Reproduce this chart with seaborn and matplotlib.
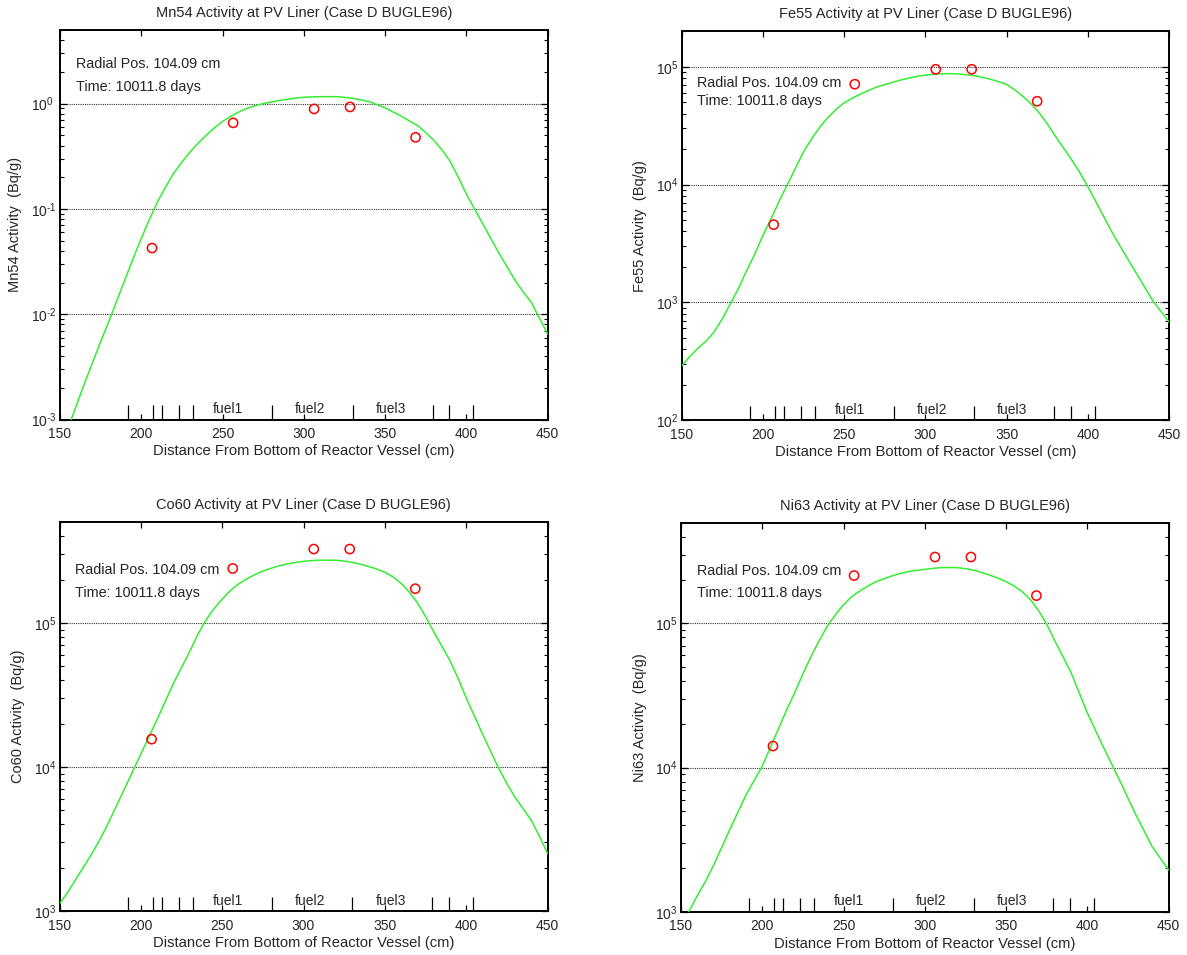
import numpy as np
import pandas as pd
import seaborn as sns
import matplotlib
matplotlib.use("Agg")
import matplotlib.pyplot as plt
from matplotlib.ticker import NullFormatter, LogLocator, FuncFormatter

sns.set_style("ticks")
plt.rcParams["font.family"] = ["Liberation Sans", "DejaVu Sans"]
plt.rcParams["mathtext.fontset"] = "custom"
plt.rcParams["mathtext.rm"] = "Liberation Sans"
plt.rcParams["mathtext.default"] = "regular"

# Axial positions of the calculated profile (cm from vessel bottom), 5 cm steps
calc_x = list(range(150, 455, 5))

# Calculated activity profiles (Bq/g)
mn54_calc = [5.0e-4, 8.3e-4, 1.35e-3, 2.19e-3, 3.47e-3, 5.5e-3, 8.5e-3, 1.35e-2, 2.14e-2, 3.39e-2,
             5.25e-2, 7.94e-2, 0.117, 0.162, 0.219, 0.279, 0.347, 0.422, 0.501, 0.589,
             0.676, 0.759, 0.832, 0.902, 0.955, 1.00, 1.035, 1.072, 1.10, 1.13,
             1.148, 1.159, 1.164, 1.164, 1.164, 1.148, 1.122, 1.086, 1.047, 0.977,
             0.912, 0.832, 0.759, 0.684, 0.617, 0.531, 0.447, 0.363, 0.282, 0.200,
             0.138, 0.100, 0.0724, 0.0525, 0.038, 0.0282, 0.0209, 0.0162, 0.0129, 0.0091,
             0.00646]
fe55_calc = [288, 347, 407, 468, 562, 724, 977, 1318, 1862, 2570,
             3715, 5130, 7244, 10000, 13800, 19050, 24550, 30900, 37150, 43650,
             49550, 54300, 58900, 63100, 67600, 70800, 74100, 77600, 80350, 83200,
             85100, 86500, 87500, 87700, 87100, 85900, 84300, 81700, 78500, 75000,
             70800, 63800, 56200, 48400, 40700, 32700, 25700, 20400, 16200, 12600,
             9550, 7080, 5250, 3890, 2950, 2265, 1740, 1334, 1023, 832,
             676]
co60_calc = [1122, 1349, 1660, 2042, 2512, 3162, 4074, 5370, 7079, 9333,
             12300, 16220, 21380, 28510, 38020, 48980, 63100, 83180, 104700, 125900,
             146200, 167900, 186200, 201800, 216300, 229100, 239900, 249500, 257000, 263000,
             267900, 271000, 272900, 272900, 272300, 269200, 263000, 255900, 246600, 237100,
             224900, 208900, 188400, 164100, 138000, 110900, 87100, 69180, 54950, 41210,
             30200, 22650, 16980, 12880, 9772, 7674, 6166, 5129, 4266, 3311,
             2512]
ni63_calc = [794, 1012, 1288, 1622, 2089, 2786, 3715, 4898, 6457, 8128,
             10230, 13800, 18620, 25120, 33110, 44670, 58880, 75860, 95500, 114800,
             134900, 153100, 167900, 182000, 195000, 204200, 213800, 222300, 229100, 233300,
             237100, 241000, 243800, 244300, 243800, 239900, 234400, 225900, 216300, 206500,
             195000, 182000, 166000, 146200, 123000, 98850, 75860, 58880, 45710, 33110,
             23990, 18200, 13800, 10590, 8128, 6166, 4677, 3631, 2818, 2344,
             1950]

# Measured sample positions and activities (Bq/g)
meas_x = [206.6, 256.5, 306.3, 328.4, 368.7]
mn54_meas = [0.0425, 0.656, 0.89, 0.93, 0.478]
fe55_meas = [4570, 71300, 95500, 95500, 51100]
co60_meas = [15600, 239000, 326000, 326000, 173000]
ni63_meas = [14100, 215000, 289000, 289000, 156000]

# Core region boundaries and labels
boundaries = [192.0, 207.5, 213.0, 223.5, 232.0, 280.7, 330.0, 379.2, 389.4, 404.3]
fuel_labels = ["fuel1", "fuel2", "fuel3"]
fuel_label_x = [253.5, 304.0, 353.5]

# name, curve, samples, y-limits, axes rect, note rows, y tick pad, y label offset
panels = [
    ("Mn54", mn54_calc, mn54_meas, (1e-3, 5.0), [0.05055, 0.56073, 0.41087, 0.40785],
     (0.912, 0.853), 20.7, -0.0917),
    ("Fe55", fe55_calc, fe55_meas, (1e2, 2e5), [0.57430, 0.56021, 0.41078, 0.40681],
     (0.867, 0.822), 18.8, -0.0847),
    ("Co60", co60_calc, co60_meas, (1e3, 5e5), [0.05013, 0.04607, 0.41112, 0.40702],
     (0.878, 0.819), 18.6, -0.0841),
    ("Ni63", ni63_calc, ni63_meas, (1e3, 5e5), [0.57372, 0.04534, 0.41070, 0.40733],
     (0.877, 0.820), 18.4, -0.0833),
]


def decade_label(value, pos):
    exponent = int(round(np.log10(value)))
    sup = str(exponent).replace("-", "\u2010")
    return rf"$10^{{{sup}}}$"


fs = 10.0
fig = plt.figure(figsize=(11.87, 9.55), dpi=100)
axes = []

for name, calc, meas, ylim, rect, text_y, ypad, ylab_x in panels:
    ax = fig.add_axes(rect)
    axes.append(ax)
    ax.set_yscale("log")
    ax.set_xlim(150, 450)
    ax.set_ylim(*ylim)

    ax.yaxis.grid(True, which="major", linestyle=(0, (1, 1)), color="#333333", lw=0.8)
    ax.xaxis.grid(False)

    df_calc = pd.DataFrame({"x": calc_x, "y": calc})
    sns.lineplot(data=df_calc, x="x", y="y", ax=ax, color="#33ee33", lw=1.1,
                 estimator=None, sort=False, zorder=3)
    df_meas = pd.DataFrame({"x": meas_x, "y": meas})
    sns.scatterplot(data=df_meas, x="x", y="y", ax=ax, marker="o", s=44,
                    facecolors="none", edgecolor="#ff0000", linewidth=1.1, zorder=4)

    # region boundary markers along the bottom
    xtr = ax.get_xaxis_transform()
    ax.vlines(boundaries, 0, 0.036, transform=xtr, color="black", lw=0.9)
    for lab, lx in zip(fuel_labels, fuel_label_x):
        ax.text(lx, 0.009, lab, transform=xtr, ha="center", va="bottom", fontsize=fs)

    ax.text(0.032, text_y[0], "Radial Pos. 104.09 cm", transform=ax.transAxes,
            va="center", ha="left", fontsize=10.4)
    ax.text(0.032, text_y[1], "Time: 10011.8 days", transform=ax.transAxes,
            va="center", ha="left", fontsize=10.4)

    ax.set_xticks([150, 200, 250, 300, 350, 400, 450])
    ax.yaxis.set_major_locator(LogLocator(base=10))
    ax.yaxis.set_major_formatter(FuncFormatter(decade_label))
    ax.yaxis.set_minor_locator(LogLocator(base=10, subs=np.arange(2, 10), numticks=20))
    ax.yaxis.set_minor_formatter(NullFormatter())
    ax.tick_params(axis="both", which="both", direction="in", top=True, right=True,
                   labelsize=fs, color="black")
    ax.tick_params(axis="y", which="major", length=5, width=0.9, pad=ypad)
    ax.tick_params(axis="y", which="minor", length=2.7, width=0.8)
    ax.tick_params(axis="x", which="major", length=4, width=0.9, pad=5.5)

    for sp in ax.spines.values():
        sp.set_linewidth(1.4)
        sp.set_color("black")

    ax.set_title(f"{name} Activity at PV Liner (Case D BUGLE96)", fontsize=10.5, pad=9.5)
    ax.set_xlabel("Distance From Bottom of Reactor Vessel (cm)", fontsize=10.6)
    ax.set_ylabel(f"{name} Activity  (Bq/g)", fontsize=10.5)
    ax.xaxis.label.set_verticalalignment("center")
    ax.yaxis.label.set_verticalalignment("center")
    ax.xaxis.set_label_coords(0.5, -0.082)
    ax.yaxis.set_label_coords(ylab_x, 0.5)

# decade labels on the y axis start at a common left edge
for ax in axes:
    for tick in ax.yaxis.get_major_ticks():
        tick.label1.set_horizontalalignment("left")

fig.savefig("out.png", dpi=100, facecolor="white")
